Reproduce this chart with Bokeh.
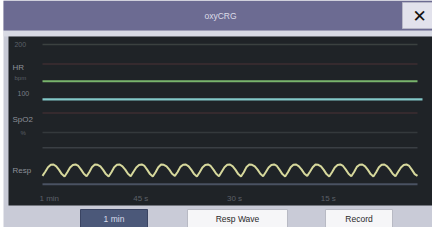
import numpy as np
from bokeh.plotting import figure
from bokeh.models import Range1d
from bokeh.core.properties import value
from bokeh.embed import file_html
from bokeh.resources import INLINE

# ---------------- data ----------------
title_text = "oxyCRG"
hr_time = [-60, -45, -30, -15, 0]
hr_values = [125, 125, 125, 125, 125]          # bpm
spo2_time = [-60, -45, -30, -15, 0.8]
spo2_values = [97, 97, 97, 97, 97]             # %
hr_scale_values = [200]
hr_scale_labels = ["200"]
spo2_scale_values = [100]
spo2_scale_labels = ["100"]
hr_limit_lines = [200, 160]
spo2_limit_lines = [90, 80]
resp_values = [
    -0.9, -0.2, 0.55, 0.95, 1.0, 0.7, 0.1, -0.6,
    -1.0, -0.3, 0.5, 0.9, 1.0, 0.75, 0.15, -0.55,
    -0.95, -0.25, 0.6, 1.0, 0.95, 0.7, 0.1, -0.6,
    -1.0, -0.3, 0.55, 0.95, 1.0, 0.7, 0.15, -0.55,
    -0.95, -0.2, 0.5, 0.9, 1.0, 0.75, 0.1, -0.6,
    -1.0, -0.3, 0.55, 1.0, 0.95, 0.7, 0.15, -0.55,
    -0.9, -0.25, 0.6, 0.95, 1.0, 0.7, 0.1, -0.6,
    -1.0, -0.3, 0.5, 0.9, 1.0, 0.75, 0.15, -0.55,
    -0.95, -0.2, 0.55, 0.95, 1.0, 0.7, 0.1, -0.6,
    -1.0, -0.3, 0.6, 1.0, 0.95, 0.7, 0.15, -0.55,
    -0.95, -0.25, 0.5, 0.9, 1.0, 0.75, 0.1, -0.6,
    -1.0, -0.3, 0.55, 0.95, 1.0, 0.7, 0.15, -0.55,
    -0.9, -0.2, 0.55, 1.0, 0.95, 0.7, 0.1, -0.6,
    -1.0, -0.3, 0.5, 0.9, 1.0, 0.75, 0.15, -0.55,
    -0.95, -0.25, 0.6, 0.95, 1.0, 0.7, 0.1, -0.6,
    -1.0, -0.3, 0.55, 0.95, 1.0, 0.7, 0.15, -0.55,
    -0.95, -0.2, 0.5, 0.9, 1.0, 0.75, 0.1, -0.6,
    -0.9,
]
resp_time = np.linspace(-60, 0, len(resp_values))
time_tick_values = [-60, -45, -30, -15]
time_tick_labels = ["1 min", "45 s", "30 s", "15 s"]
side_labels = ["HR", "bpm", "SpO2", "%", "Resp"]
button_labels = ["1 min", "Resp Wave", "Record"]

# ---------------- figure (pixel-like primary ranges) ----------------
W, H = 432, 227
p = figure(width=W, height=H, output_backend="svg", toolbar_location=None,
           x_range=Range1d(0, W), y_range=Range1d(H, 0),
           x_axis_location=None, y_axis_location=None, min_border=0)
p.outline_line_color = None
p.grid.visible = False
p.background_fill_color = "#ffffff"
p.border_fill_color = "#ffffff"

p.extra_x_ranges = {"time": Range1d(-66.72, 2.4)}
p.extra_y_ranges = {"hr": Range1d(-173.5, 289.8),
                    "spo2": Range1d(31.3, 147.7),
                    "resp": Range1d(-9.5, 28.33)}

FONT = value("Liberation Sans")

# window chrome
p.quad(left=[3], right=[W], top=[0], bottom=[H], fill_color="#c9cbd7", line_color=None)
p.quad(left=[3], right=[W], top=[30], bottom=[36], fill_color="#d8dae4", line_color=None)
p.quad(left=[3], right=[W], top=[0], bottom=[30], fill_color="#6c6b92", line_color=None)
p.quad(left=[402], right=[W], top=[2], bottom=[28], fill_color="#e2e2ec", line_color="#b8b8c8")
p.text(x=[419], y=[15], text=["✕"], text_font=value("DejaVu Sans"), text_font_style="bold",
       text_font_size="17px", text_color="#111111", text_align="center", text_baseline="middle")
p.text(x=[220], y=[15], text=[title_text], text_font=FONT, text_font_size="8.5px",
       text_color="#dcdce8", text_align="center", text_baseline="middle")

# dark monitor panel
p.quad(left=[8], right=[W], top=[36], bottom=[205], fill_color="#1f2327", line_color=None)

# band lines
p.segment(x0=[-60] * len(hr_limit_lines), x1=[0] * len(hr_limit_lines),
          y0=hr_limit_lines, y1=hr_limit_lines, line_color=["#3b4140", "#3e2e32"],
          line_width=1.5, x_range_name="time", y_range_name="hr")
p.segment(x0=[-60] * len(spo2_limit_lines), x1=[0] * len(spo2_limit_lines),
          y0=spo2_limit_lines, y1=spo2_limit_lines, line_color=["#3e2e32", "#34393c"],
          line_width=1.5, x_range_name="time", y_range_name="spo2")
p.segment(x0=[-60, -60], x1=[0, 0], y0=[3.8, -2.3], y1=[3.8, -2.3],
          line_color=["#3a3f44", "#4a5262"], line_width=[1.5, 2],
          x_range_name="time", y_range_name="resp")

# traces
p.line(hr_time, hr_values, line_color="#78b46c", line_width=2.2,
       x_range_name="time", y_range_name="hr")
p.line(spo2_time, spo2_values, line_color="#82c8c8", line_width=2.2,
       x_range_name="time", y_range_name="spo2")
p.line(resp_time, resp_values, line_color="#d6d89c", line_width=2,
       x_range_name="time", y_range_name="resp")

# scale labels
p.text(x=[-64.5] * len(hr_scale_values), y=hr_scale_values, text=hr_scale_labels,
       text_font=FONT, text_font_size="7px", text_color="#5c6068",
       text_align="left", text_baseline="middle", x_range_name="time", y_range_name="hr")
p.text(x=[-64] * len(spo2_scale_values), y=spo2_scale_values, text=spo2_scale_labels,
       text_font=FONT, text_font_size="7px", text_color="#7a7e86",
       text_align="left", text_baseline="middle", x_range_name="time", y_range_name="spo2")
p.text(x=[12, 14, 12, 20, 12], y=[67, 77, 119, 132, 170], text=side_labels,
       text_font=FONT, text_font_size=["8px", "6px", "8px", "6px", "8px"],
       text_color=["#8c9098", "#5c6068", "#8c9098", "#5c6068", "#8c9098"],
       text_align="left", text_baseline="middle")

# time labels
p.text(x=time_tick_values, y=[-4.7] * len(time_tick_values), text=time_tick_labels,
       text_font=FONT, text_font_size="8px", text_color="#5c6068",
       text_align="left", text_baseline="middle", x_offset=-3,
       x_range_name="time", y_range_name="resp")

# buttons
p.quad(left=[80, 187, 325], right=[147, 287, 392], top=[209, 209, 209], bottom=[227, 227, 227],
       fill_color=["#4b5879", "#f6f6f8", "#f6f6f8"],
       line_color=["#3a4462", "#b8bac4", "#b8bac4"], line_width=1)
p.text(x=[113.5, 237, 358.5], y=[218, 218, 218], text=button_labels,
       text_font=FONT, text_font_size="8.5px",
       text_color=["#d8dcea", "#2a2a2a", "#2a2a2a"],
       text_align="center", text_baseline="middle")

open("out.html", "w").write(file_html(p, INLINE))
